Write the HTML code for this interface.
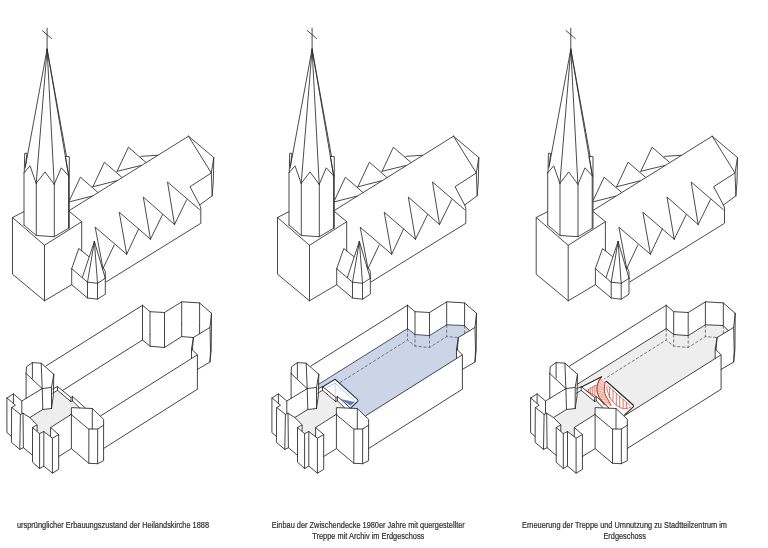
<!DOCTYPE html>
<html lang="de">
<head>
<meta charset="utf-8">
<title>Heilandskirche – Bauzustände</title>
<style>
html,body{margin:0;padding:0;background:#fff;}
body{width:768px;height:548px;overflow:hidden;font-family:"Liberation Sans",Arial,sans-serif;}
svg{display:block;will-change:transform;}
</style>
</head>
<body>
<svg width="768" height="548" viewBox="0 0 768 548">
<rect width="768" height="548" fill="#fff"/>
<g transform="translate(0 0)" fill="none" stroke="#2b2b2b" stroke-width="0.85" stroke-linejoin="round" stroke-linecap="round">
<path d="M29.8,417.5 L42.8,409.5 L51.5,408.5 L53.0,393.2 L57.5,390.4 L70.7,401.5 L72.6,401.0 L79.5,407.7 L71.4,407.6 L71.4,414.3 L50.6,427.5 L50.6,436.5 L43.8,431.5 L39.6,433.6 L37.1,431.0 L37.1,424.8Z" fill="#eeeeee" stroke="none"/>
<path d="M47.1,28.2 L47.1,49.2 M42.3,30.6 L51.6,38.6 M24.3,172.5 L30.0,165.8 L36.2,183.4 L45.0,171.9 L54.2,184.4 L61.3,167.8 L68.7,176.0 M47.1,49.2 L25.5,166.0 M47.1,49.2 L36.2,183.4 M47.1,49.2 L54.2,184.4 M47.1,49.2 L68.7,176.0 M47.1,49.2 L66.5,156.5 M24.3,172.5 L24.7,153.3 L27.0,153.3 L25.2,168.0 M68.7,175.8 L65.3,156.3 L69.3,156.7 L69.3,228.0 M24.0,172.5 L24.0,225.0 M36.3,183.4 L36.3,235.5 M54.3,184.4 L54.3,236.7 M68.5,175.8 L68.5,228.3 M24.0,225.0 L36.3,235.5 L54.3,236.7 L68.5,228.3 M23.8,211.7 L12.5,217.5 L44.5,245.3 L81.7,221.7 L69.7,211.7 M12.5,217.5 L12.5,274.2 L44.5,300.8 L71.7,284.7 M44.5,245.3 L44.5,300.8 M81.7,221.7 L81.7,250.8 M71.7,268.7 L78.8,248.5 L88.8,256.6 M71.7,268.7 L87.5,282.2 L97.5,283.3 L105.3,278.3 M71.7,268.7 L71.7,284.7 L87.5,298.0 L97.5,299.2 L105.3,294.2 L105.3,278.3 M87.5,282.2 L87.5,298.0 M97.5,283.3 L97.5,299.2 M94.4,241.4 L82.3,277.6 M94.4,241.4 L87.5,282.2 M94.4,241.4 L97.5,283.3 M94.4,241.4 L105.3,278.3 M103.3,267.5 L105.3,271.5 L105.3,278.3 M69.5,210.4 L188.5,136.2 M69.6,200.2 L80.4,177.2 L97.9,192.4 M69.6,201.8 L92.0,196.1 M92.9,186.8 L104.4,162.2 L121.9,177.4 M92.9,186.8 L116.4,180.8 M117.1,171.3 L128.4,147.2 L145.9,162.4 M117.1,171.3 L140.8,165.5 M140.2,157.4 L141.5,156.3 L157.5,155.3 M188.5,136.2 L213.8,157.5 L213.3,182.0 L212.2,195.8 L199.7,205.0 L190.0,186.7 L211.3,173.0 L188.5,136.2 M213.8,157.5 L211.3,173.0 L212.2,195.8 M199.7,205.0 L200.8,208.0 L200.8,223.3 L106.0,282.0 M103.0,268.5 L95.2,227.2 L126.7,254.2 M103.0,268.5 L114.2,245.0 M126.7,254.2 L119.2,212.2 L150.5,239.2 M126.7,254.2 L138.7,228.7 M150.5,239.2 L143.3,197.0 L174.5,224.5 M150.5,239.2 L162.5,214.7 M174.5,224.5 L167.5,182.0 L199.5,209.5 M174.5,224.5 L186.7,199.7"/>
<path d="M62.6,390.4 L142.5,340.0 L150.0,346.2 L164.5,347.5 L181.6,336.6 L193.4,337.5 M142.5,328.6 L142.5,340.0 M150.0,334.5 L150.0,346.2 M164.5,335.6 L164.5,347.5 M181.7,324.8 L181.7,336.6 M199.6,325.5 L199.6,333.7" stroke-width="0.88"/>
<path d="M26.1,373.5 L26.5,366.8 L32.4,362.6 L41.2,363.2 L53.8,374.3 M32.4,362.6 L32.4,378.2 M41.2,363.2 L42.2,388.6 M26.1,373.5 L42.2,388.6 M42.2,388.6 L51.5,387.4 M26.1,373.5 L26.1,398.4 M53.8,374.3 L53.3,396.0 L51.5,408.5 M53.8,374.3 L51.5,387.4 L51.5,408.5 M42.2,388.6 L42.8,409.5 L51.5,408.5 M42.8,409.5 L29.8,417.5 M21.8,401.0 L42.2,388.6 M7.1,398.0 L13.4,393.8 L21.8,401.0 L21.8,413.4 M7.1,398.0 L13.9,403.9 L15.5,405.2 L11.8,407.5 L20.4,414.4 L22.9,413.2 L29.8,417.5 L37.1,424.8 M13.4,393.8 L13.4,403.6 M6.9,398.0 L6.9,432.6 L11.4,436.4 M11.6,407.5 L11.4,442.3 L19.8,449.4 L23.4,447.7 L32.5,455.3 M20.4,414.4 L19.8,449.4 M23.0,413.2 L23.4,447.7 M37.1,431.0 L37.1,424.9 L32.5,427.5 L39.6,433.6 L43.8,431.5 L52.4,438.2 L58.7,434.6 L50.6,427.5 L50.6,436.5 M32.5,427.5 L32.5,462.2 L39.6,468.6 L43.8,466.0 L52.4,473.2 L58.7,469.4 L58.7,434.6 M39.6,433.6 L39.6,468.6 M43.8,431.5 L43.8,466.0 M52.4,438.2 L52.4,473.2 M50.6,427.5 L71.4,414.3 M58.7,456.5 L71.4,448.6 M71.4,414.3 L71.4,407.6 L92.3,408.5 L103.6,419.3 L103.6,425.2 L97.7,429.0 L88.9,429.0Z M92.3,408.5 L92.3,429.0 M71.4,414.3 L71.4,448.6 L88.8,463.3 L97.6,463.7 L103.6,460.7 L103.6,425.2 M88.9,429.0 L88.8,463.3 M97.7,429.0 L97.6,463.7 M52.9,388.9 L57.5,386.5 L71.1,397.6 L72.4,396.3 L85.4,408.1 M52.9,393.1 L57.5,390.3 L70.7,401.4 L72.6,400.9 L79.5,407.7 M57.5,386.5 L57.5,390.3 M71.1,397.6 L70.7,401.4 M72.4,396.3 L72.6,400.9 M45.8,366.1 L142.5,305.3 M142.5,305.3 L150.0,311.7 L164.5,312.5 L181.8,301.8 L199.6,302.9 L211.5,313.3 M142.5,305.3 L142.5,328.6 M150.0,311.7 L150.0,334.5 M164.5,312.5 L164.5,335.6 M181.7,301.8 L181.7,324.8 M199.6,302.9 L199.6,325.5 M193.4,337.5 L210.0,327.4 M211.5,313.3 L211.2,350.0 L210.0,362.0 L197.4,369.4 M211.5,313.3 L210.0,327.4 L210.5,350.0 L210.0,362.0 M193.4,337.5 L191.5,349.0 L197.4,354.8 M193.4,337.5 L192.4,349.8 M191.5,349.0 L191.5,358.5 M100.7,415.8 L197.4,354.8 L197.4,389.2 L103.6,448.5" stroke-width="0.88"/>
</g>
<g transform="translate(265.0 0)" fill="none" stroke="#2b2b2b" stroke-width="0.85" stroke-linejoin="round" stroke-linecap="round">
<path d="M29.8,417.5 L42.8,409.5 L51.5,408.5 L53.0,393.2 L57.5,390.4 L70.7,401.5 L72.6,401.0 L79.5,407.7 L71.4,407.6 L71.4,414.3 L50.6,427.5 L50.6,436.5 L43.8,431.5 L39.6,433.6 L37.1,431.0 L37.1,424.8Z" fill="#eeeeee" stroke="none"/>
<path d="M53.4,384.4 L142.5,328.6 L150.0,334.5 L164.5,335.6 L181.7,324.8 L199.6,325.5 L204.4,330.6 L193.4,337.5 L191.5,349.0 L191.5,358.5 L100.7,415.8 L92.3,408.5 L85.4,408.1 L72.4,396.3 L71.1,397.6 L57.5,386.5 L53.0,389.0Z" fill="#cbd5e7" stroke="none"/>
<path d="M47.1,28.2 L47.1,49.2 M42.3,30.6 L51.6,38.6 M24.3,172.5 L30.0,165.8 L36.2,183.4 L45.0,171.9 L54.2,184.4 L61.3,167.8 L68.7,176.0 M47.1,49.2 L25.5,166.0 M47.1,49.2 L36.2,183.4 M47.1,49.2 L54.2,184.4 M47.1,49.2 L68.7,176.0 M47.1,49.2 L66.5,156.5 M24.3,172.5 L24.7,153.3 L27.0,153.3 L25.2,168.0 M68.7,175.8 L65.3,156.3 L69.3,156.7 L69.3,228.0 M24.0,172.5 L24.0,225.0 M36.3,183.4 L36.3,235.5 M54.3,184.4 L54.3,236.7 M68.5,175.8 L68.5,228.3 M24.0,225.0 L36.3,235.5 L54.3,236.7 L68.5,228.3 M23.8,211.7 L12.5,217.5 L44.5,245.3 L81.7,221.7 L69.7,211.7 M12.5,217.5 L12.5,274.2 L44.5,300.8 L71.7,284.7 M44.5,245.3 L44.5,300.8 M81.7,221.7 L81.7,250.8 M71.7,268.7 L78.8,248.5 L88.8,256.6 M71.7,268.7 L87.5,282.2 L97.5,283.3 L105.3,278.3 M71.7,268.7 L71.7,284.7 L87.5,298.0 L97.5,299.2 L105.3,294.2 L105.3,278.3 M87.5,282.2 L87.5,298.0 M97.5,283.3 L97.5,299.2 M94.4,241.4 L82.3,277.6 M94.4,241.4 L87.5,282.2 M94.4,241.4 L97.5,283.3 M94.4,241.4 L105.3,278.3 M103.3,267.5 L105.3,271.5 L105.3,278.3 M69.5,210.4 L188.5,136.2 M69.6,200.2 L80.4,177.2 L97.9,192.4 M69.6,201.8 L92.0,196.1 M92.9,186.8 L104.4,162.2 L121.9,177.4 M92.9,186.8 L116.4,180.8 M117.1,171.3 L128.4,147.2 L145.9,162.4 M117.1,171.3 L140.8,165.5 M140.2,157.4 L141.5,156.3 L157.5,155.3 M188.5,136.2 L213.8,157.5 L213.3,182.0 L212.2,195.8 L199.7,205.0 L190.0,186.7 L211.3,173.0 L188.5,136.2 M213.8,157.5 L211.3,173.0 L212.2,195.8 M199.7,205.0 L200.8,208.0 L200.8,223.3 L106.0,282.0 M103.0,268.5 L95.2,227.2 L126.7,254.2 M103.0,268.5 L114.2,245.0 M126.7,254.2 L119.2,212.2 L150.5,239.2 M126.7,254.2 L138.7,228.7 M150.5,239.2 L143.3,197.0 L174.5,224.5 M150.5,239.2 L162.5,214.7 M174.5,224.5 L167.5,182.0 L199.5,209.5 M174.5,224.5 L186.7,199.7"/>
<path d="M62.6,390.4 L142.5,340.0 L150.0,346.2 L164.5,347.5 L181.6,336.6 L193.4,337.5 M142.5,328.6 L142.5,340.0 M150.0,334.5 L150.0,346.2 M164.5,335.6 L164.5,347.5 M181.7,324.8 L181.7,336.6 M199.6,325.5 L199.6,333.7" stroke="#414c63" stroke-dasharray="3.1 1.8" stroke-linecap="butt" stroke-width="0.7"/>
<path d="M53.4,384.4 L142.5,328.6 L150.0,334.5 L164.5,335.6 L181.7,324.8 L199.6,325.5 L204.4,330.6" stroke="#333d52" stroke-width="0.88"/>
<path d="M57.4,387 L70.1,379.3 L92.4,399.4 Q93.5,400.4 92.7,401.3 L85.7,408.1 L72.4,396.3 L71.1,397.6 L57.5,386.5Z" fill="#fff" stroke="none"/>
<path d="M75.3,399.1 L89.9,402 L85.5,405.8Z" fill="#5f80b9" stroke="none"/>
<path d="M70.1,383.2 V396.9" stroke="#b4c0d6" stroke-width="0.7"/>
<path d="M60.6,388 L70.1,383.2 L90.4,401.6 Q91,402.2 90.4,402.8 L86.2,406.6" stroke="#8fa5c9" stroke-width="0.6"/>
<path d="M57.4,387 L70.1,379.3 L92.4,399.4 Q93.5,400.4 92.7,401.3 L85.7,408.1" stroke="#323c55" stroke-width="1.15"/>
<path d="M26.1,373.5 L26.5,366.8 L32.4,362.6 L41.2,363.2 L53.8,374.3 M32.4,362.6 L32.4,378.2 M41.2,363.2 L42.2,388.6 M26.1,373.5 L42.2,388.6 M42.2,388.6 L51.5,387.4 M26.1,373.5 L26.1,398.4 M53.8,374.3 L53.3,396.0 L51.5,408.5 M53.8,374.3 L51.5,387.4 L51.5,408.5 M42.2,388.6 L42.8,409.5 L51.5,408.5 M42.8,409.5 L29.8,417.5 M21.8,401.0 L42.2,388.6 M7.1,398.0 L13.4,393.8 L21.8,401.0 L21.8,413.4 M7.1,398.0 L13.9,403.9 L15.5,405.2 L11.8,407.5 L20.4,414.4 L22.9,413.2 L29.8,417.5 L37.1,424.8 M13.4,393.8 L13.4,403.6 M6.9,398.0 L6.9,432.6 L11.4,436.4 M11.6,407.5 L11.4,442.3 L19.8,449.4 L23.4,447.7 L32.5,455.3 M20.4,414.4 L19.8,449.4 M23.0,413.2 L23.4,447.7 M37.1,431.0 L37.1,424.9 L32.5,427.5 L39.6,433.6 L43.8,431.5 L52.4,438.2 L58.7,434.6 L50.6,427.5 L50.6,436.5 M32.5,427.5 L32.5,462.2 L39.6,468.6 L43.8,466.0 L52.4,473.2 L58.7,469.4 L58.7,434.6 M39.6,433.6 L39.6,468.6 M43.8,431.5 L43.8,466.0 M52.4,438.2 L52.4,473.2 M50.6,427.5 L71.4,414.3 M58.7,456.5 L71.4,448.6 M71.4,414.3 L71.4,407.6 L92.3,408.5 L103.6,419.3 L103.6,425.2 L97.7,429.0 L88.9,429.0Z M92.3,408.5 L92.3,429.0 M71.4,414.3 L71.4,448.6 L88.8,463.3 L97.6,463.7 L103.6,460.7 L103.6,425.2 M88.9,429.0 L88.8,463.3 M97.7,429.0 L97.6,463.7 M52.9,388.9 L57.5,386.5 L71.1,397.6 L72.4,396.3 L85.4,408.1 M52.9,393.1 L57.5,390.3 L70.7,401.4 L72.6,400.9 L79.5,407.7 M57.5,386.5 L57.5,390.3 M71.1,397.6 L70.7,401.4 M72.4,396.3 L72.6,400.9 M45.8,366.1 L142.5,305.3 M142.5,305.3 L150.0,311.7 L164.5,312.5 L181.8,301.8 L199.6,302.9 L211.5,313.3 M142.5,305.3 L142.5,328.6 M150.0,311.7 L150.0,334.5 M164.5,312.5 L164.5,335.6 M181.7,301.8 L181.7,324.8 M199.6,302.9 L199.6,325.5 M193.4,337.5 L210.0,327.4 M211.5,313.3 L211.2,350.0 L210.0,362.0 L197.4,369.4 M211.5,313.3 L210.0,327.4 L210.5,350.0 L210.0,362.0 M193.4,337.5 L191.5,349.0 L197.4,354.8 M193.4,337.5 L192.4,349.8 M191.5,349.0 L191.5,358.5 M100.7,415.8 L197.4,354.8 L197.4,389.2 L103.6,448.5" stroke-width="0.88"/>
</g>
<g transform="translate(523.7 0)" fill="none" stroke="#2b2b2b" stroke-width="0.85" stroke-linejoin="round" stroke-linecap="round">
<path d="M29.8,417.5 L42.8,409.5 L51.5,408.5 L53.0,393.2 L57.5,390.4 L70.7,401.5 L72.6,401.0 L79.5,407.7 L71.4,407.6 L71.4,414.3 L50.6,427.5 L50.6,436.5 L43.8,431.5 L39.6,433.6 L37.1,431.0 L37.1,424.8Z" fill="#eeeeee" stroke="none"/>
<path d="M53.4,384.4 L142.5,328.6 L150.0,334.5 L164.5,335.6 L181.7,324.8 L199.6,325.5 L204.4,330.6 L193.4,337.5 L191.5,349.0 L191.5,358.5 L100.7,415.8 L92.3,408.5 L85.4,408.1 L72.4,396.3 L71.1,397.6 L57.5,386.5 L53.0,389.0Z" fill="#eeeeee" stroke="none"/>
<path d="M47.1,28.2 L47.1,49.2 M42.3,30.6 L51.6,38.6 M24.3,172.5 L30.0,165.8 L36.2,183.4 L45.0,171.9 L54.2,184.4 L61.3,167.8 L68.7,176.0 M47.1,49.2 L25.5,166.0 M47.1,49.2 L36.2,183.4 M47.1,49.2 L54.2,184.4 M47.1,49.2 L68.7,176.0 M47.1,49.2 L66.5,156.5 M24.3,172.5 L24.7,153.3 L27.0,153.3 L25.2,168.0 M68.7,175.8 L65.3,156.3 L69.3,156.7 L69.3,228.0 M24.0,172.5 L24.0,225.0 M36.3,183.4 L36.3,235.5 M54.3,184.4 L54.3,236.7 M68.5,175.8 L68.5,228.3 M24.0,225.0 L36.3,235.5 L54.3,236.7 L68.5,228.3 M23.8,211.7 L12.5,217.5 L44.5,245.3 L81.7,221.7 L69.7,211.7 M12.5,217.5 L12.5,274.2 L44.5,300.8 L71.7,284.7 M44.5,245.3 L44.5,300.8 M81.7,221.7 L81.7,250.8 M71.7,268.7 L78.8,248.5 L88.8,256.6 M71.7,268.7 L87.5,282.2 L97.5,283.3 L105.3,278.3 M71.7,268.7 L71.7,284.7 L87.5,298.0 L97.5,299.2 L105.3,294.2 L105.3,278.3 M87.5,282.2 L87.5,298.0 M97.5,283.3 L97.5,299.2 M94.4,241.4 L82.3,277.6 M94.4,241.4 L87.5,282.2 M94.4,241.4 L97.5,283.3 M94.4,241.4 L105.3,278.3 M103.3,267.5 L105.3,271.5 L105.3,278.3 M69.5,210.4 L188.5,136.2 M69.6,200.2 L80.4,177.2 L97.9,192.4 M69.6,201.8 L92.0,196.1 M92.9,186.8 L104.4,162.2 L121.9,177.4 M92.9,186.8 L116.4,180.8 M117.1,171.3 L128.4,147.2 L145.9,162.4 M117.1,171.3 L140.8,165.5 M140.2,157.4 L141.5,156.3 L157.5,155.3 M188.5,136.2 L213.8,157.5 L213.3,182.0 L212.2,195.8 L199.7,205.0 L190.0,186.7 L211.3,173.0 L188.5,136.2 M213.8,157.5 L211.3,173.0 L212.2,195.8 M199.7,205.0 L200.8,208.0 L200.8,223.3 L106.0,282.0 M103.0,268.5 L95.2,227.2 L126.7,254.2 M103.0,268.5 L114.2,245.0 M126.7,254.2 L119.2,212.2 L150.5,239.2 M126.7,254.2 L138.7,228.7 M150.5,239.2 L143.3,197.0 L174.5,224.5 M150.5,239.2 L162.5,214.7 M174.5,224.5 L167.5,182.0 L199.5,209.5 M174.5,224.5 L186.7,199.7"/>
<path d="M62.6,390.4 L142.5,340.0 L150.0,346.2 L164.5,347.5 L181.6,336.6 L193.4,337.5 M142.5,328.6 L142.5,340.0 M150.0,334.5 L150.0,346.2 M164.5,335.6 L164.5,347.5 M181.7,324.8 L181.7,336.6 M199.6,325.5 L199.6,333.7" stroke="#444" stroke-dasharray="3.1 1.8" stroke-linecap="butt" stroke-width="0.7"/>
<path d="M53.4,384.4 L142.5,328.6 L150.0,334.5 L164.5,335.6 L181.7,324.8 L199.6,325.5 L204.4,330.6" stroke="#2b2b2b" stroke-width="0.88"/>
<path d="M57.3,387.2 L77.9,376.7 L82.6,381.3 L109.2,404.8 Q110.3,405.8 109.5,406.8 L101,414.9 L92.3,408.5 L85.4,408.1 L72.4,396.3 L71.1,397.6 L57.5,386.5Z" fill="#fff" stroke="none"/>
<path d="M77.5,377.1 C73.3,382 71.3,390 75.6,397.5 L80.6,404.6 L87.3,405.2 L84.6,400.2 C80.6,394.5 79.6,389 81.7,381.8Z" fill="#f8d6cd" stroke="none"/>
<path d="M75.9,379.2 L81.2,383.4 M74.4,382.0 L80.7,385.8 M73.5,384.8 L80.5,388.2 M73.0,387.6 L80.7,390.6 M73.0,390.4 L81.2,393.0 M73.6,393.2 L82.1,395.4 M74.8,396.0 L83.3,397.8 M76.6,398.9 L84.6,400.2 M78.6,401.8 L86.0,402.7 M80.6,404.6 L87.3,405.2" stroke="#c03c28" stroke-width="0.45" opacity="0.75"/>
<path d="M77.5,377.1 C73.3,382 71.3,390 75.6,397.5 L80.6,404.6" stroke="#c03c28" stroke-width="1.2"/>
<path d="M81.7,381.8 C79.6,389 80.6,394.5 84.6,400.2 L87.3,405.2" stroke="#c03c28" stroke-width="1.0"/>
<path d="M73.3,384.7 L62.4,390.6 L72.2,396.2" stroke="#c03c28" stroke-width="0.6"/>
<path d="M64.9,389.2 V392.0 M67,388.1 V393.2 M69.1,387.0 V394.4 M71.2,385.8 V395.6 M85.9,387.4 V397.7 M89.3,390.5 V401.6 M92.6,393.4 V405.3 M96,396.4 V406.8 M99.4,399.4 V408.3 M102.7,402.3 V408.1" stroke="#c03c28" stroke-width="0.7"/>
<path d="M83.6,385.4 L106.6,405.8" stroke="#c03c28" stroke-width="0.6"/>
<path d="M83,386.8 C84,396 89,404 97,407.8 C100.5,409.3 104,408.8 106.9,407" stroke="#c03c28" stroke-width="0.7"/>
<path d="M57.3,387.2 L77.9,376.7 M82.6,381.3 L109.2,404.8 Q110.3,405.8 109.5,406.8 L101,414.9" stroke="#2a2424" stroke-width="1.15"/>
<path d="M26.1,373.5 L26.5,366.8 L32.4,362.6 L41.2,363.2 L53.8,374.3 M32.4,362.6 L32.4,378.2 M41.2,363.2 L42.2,388.6 M26.1,373.5 L42.2,388.6 M42.2,388.6 L51.5,387.4 M26.1,373.5 L26.1,398.4 M53.8,374.3 L53.3,396.0 L51.5,408.5 M53.8,374.3 L51.5,387.4 L51.5,408.5 M42.2,388.6 L42.8,409.5 L51.5,408.5 M42.8,409.5 L29.8,417.5 M21.8,401.0 L42.2,388.6 M7.1,398.0 L13.4,393.8 L21.8,401.0 L21.8,413.4 M7.1,398.0 L13.9,403.9 L15.5,405.2 L11.8,407.5 L20.4,414.4 L22.9,413.2 L29.8,417.5 L37.1,424.8 M13.4,393.8 L13.4,403.6 M6.9,398.0 L6.9,432.6 L11.4,436.4 M11.6,407.5 L11.4,442.3 L19.8,449.4 L23.4,447.7 L32.5,455.3 M20.4,414.4 L19.8,449.4 M23.0,413.2 L23.4,447.7 M37.1,431.0 L37.1,424.9 L32.5,427.5 L39.6,433.6 L43.8,431.5 L52.4,438.2 L58.7,434.6 L50.6,427.5 L50.6,436.5 M32.5,427.5 L32.5,462.2 L39.6,468.6 L43.8,466.0 L52.4,473.2 L58.7,469.4 L58.7,434.6 M39.6,433.6 L39.6,468.6 M43.8,431.5 L43.8,466.0 M52.4,438.2 L52.4,473.2 M50.6,427.5 L71.4,414.3 M58.7,456.5 L71.4,448.6 M71.4,414.3 L71.4,407.6 L92.3,408.5 L103.6,419.3 L103.6,425.2 L97.7,429.0 L88.9,429.0Z M92.3,408.5 L92.3,429.0 M71.4,414.3 L71.4,448.6 L88.8,463.3 L97.6,463.7 L103.6,460.7 L103.6,425.2 M88.9,429.0 L88.8,463.3 M97.7,429.0 L97.6,463.7 M52.9,388.9 L57.5,386.5 L71.1,397.6 L72.4,396.3 L85.4,408.1 M52.9,393.1 L57.5,390.3 L70.7,401.4 L72.6,400.9 L79.5,407.7 M57.5,386.5 L57.5,390.3 M71.1,397.6 L70.7,401.4 M72.4,396.3 L72.6,400.9 M45.8,366.1 L142.5,305.3 M142.5,305.3 L150.0,311.7 L164.5,312.5 L181.8,301.8 L199.6,302.9 L211.5,313.3 M142.5,305.3 L142.5,328.6 M150.0,311.7 L150.0,334.5 M164.5,312.5 L164.5,335.6 M181.7,301.8 L181.7,324.8 M199.6,302.9 L199.6,325.5 M193.4,337.5 L210.0,327.4 M211.5,313.3 L211.2,350.0 L210.0,362.0 L197.4,369.4 M211.5,313.3 L210.0,327.4 L210.5,350.0 L210.0,362.0 M193.4,337.5 L191.5,349.0 L197.4,354.8 M193.4,337.5 L192.4,349.8 M191.5,349.0 L191.5,358.5 M100.7,415.8 L197.4,354.8 L197.4,389.2 L103.6,448.5" stroke-width="0.88"/>
</g>
<g font-family="'Liberation Sans', Arial, sans-serif" font-size="9" fill="#303030" stroke="#303030" stroke-width="0.22" text-anchor="middle">
<text x="113" y="527.9" textLength="192" lengthAdjust="spacingAndGlyphs">ursprünglicher Erbauungszustand der Heilandskirche 1888</text>
<text x="368.3" y="527.9" textLength="193" lengthAdjust="spacingAndGlyphs">Einbau der Zwischendecke 1980er Jahre mit quergestellter</text>
<text x="368.3" y="538.9" textLength="112" lengthAdjust="spacingAndGlyphs">Treppe mit Archiv im Erdgeschoss</text>
<text x="624.5" y="527.9" textLength="205" lengthAdjust="spacingAndGlyphs">Erneuerung der Treppe und Umnutzung zu Stadtteilzentrum im</text>
<text x="624.7" y="538.9" textLength="42.5" lengthAdjust="spacingAndGlyphs">Erdgeschoss</text>
</g>
</svg>
</body>
</html>
